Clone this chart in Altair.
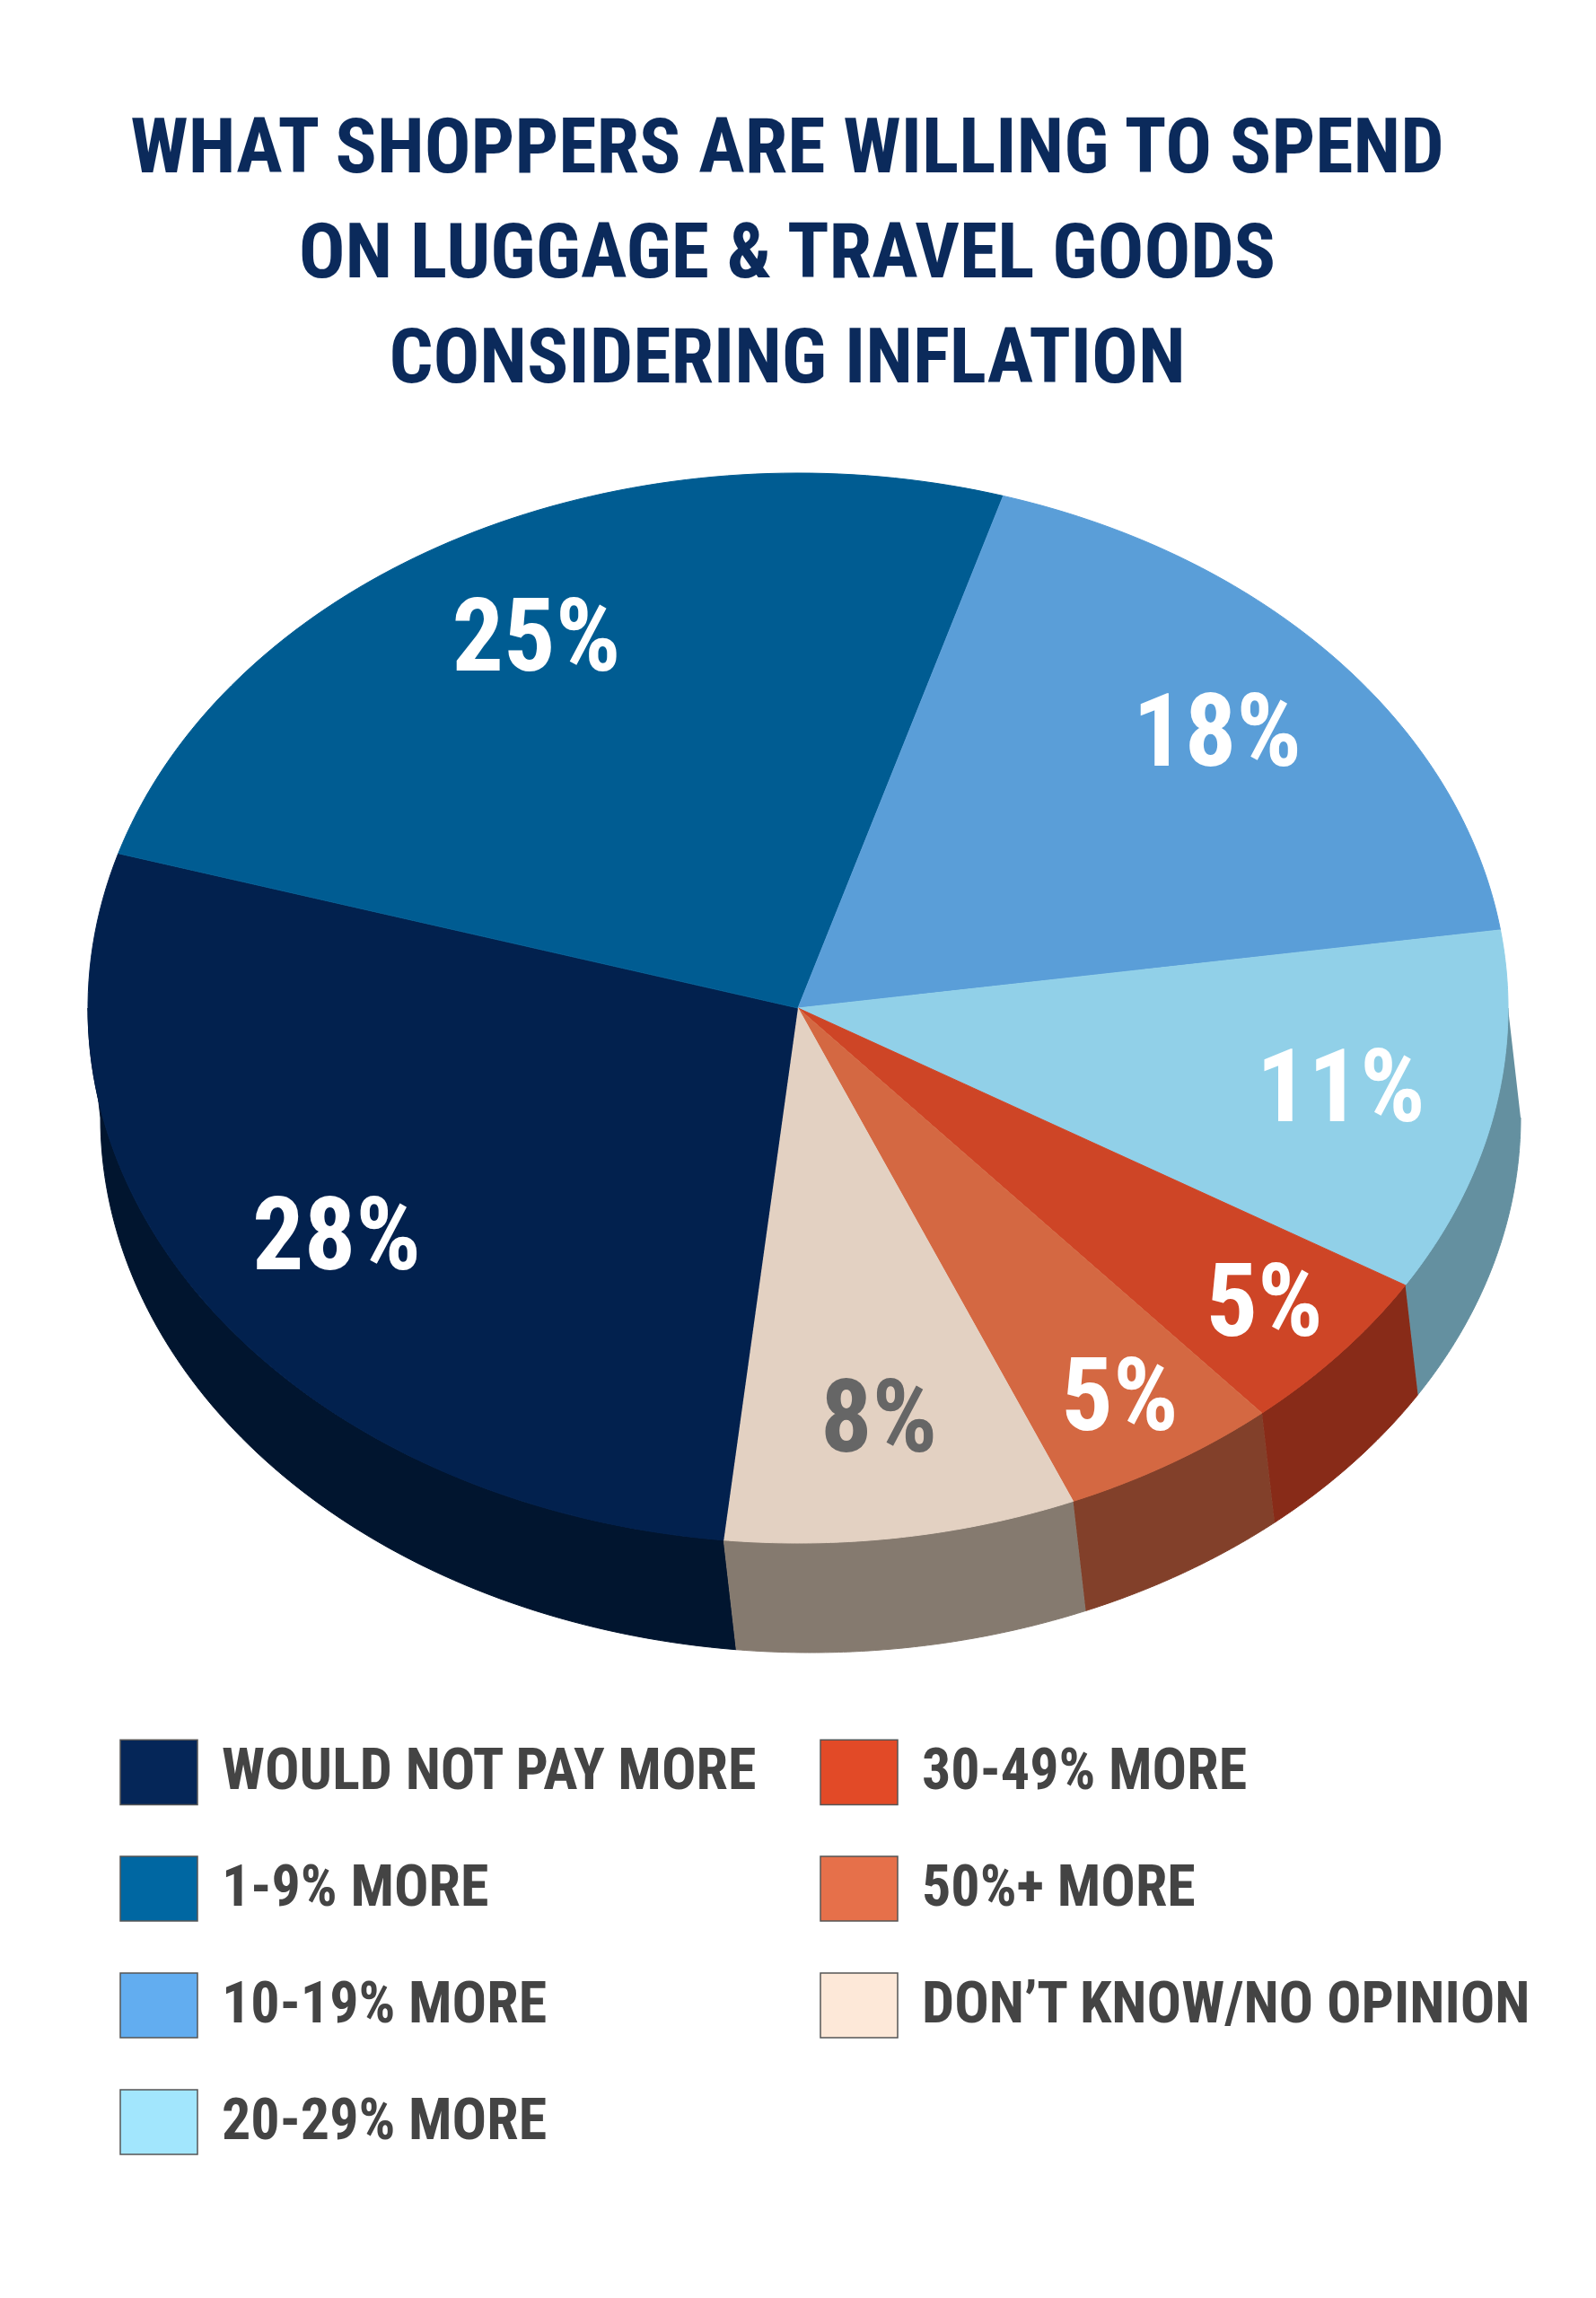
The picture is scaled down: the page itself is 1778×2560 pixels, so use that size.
import altair as alt
import pandas as pd

# ---------------- data ----------------
categories = [
    "WOULD NOT PAY MORE",
    "1-9% MORE",
    "10-19% MORE",
    "20-29% MORE",
    "30-49% MORE",
    "50%+ MORE",
    "DON\u2019T KNOW/NO OPINION",
]
values = [28, 25, 18, 11, 5, 5, 8]

legend_colors = ["#052658", "#0067a2", "#62adf0", "#a2e6fd", "#e24a27", "#e6704a", "#fde8d8"]
top_colors = ["#02214e", "#005c92", "#5a9ed8", "#91d0e8", "#ce4526", "#d46842", "#e3d1c2"]
side_colors = ["#01152f", "#00385a", "#3a6890", "#6490a0", "#882b18", "#82402a", "#857a6f"]

title_lines = [
    "WHAT SHOPPERS ARE WILLING TO SPEND",
    "ON LUGGAGE & TRAVEL GOODS",
    "CONSIDERING INFLATION",
]

df = pd.DataFrame({"cat": categories, "value": values, "k": list(range(len(values)))})

# ---------------- geometry (layout constants) ----------------
FONT = "Roboto Condensed, Liberation Sans Narrow, DejaVu Sans Condensed, Roboto, sans-serif"
PAD_TOP = 470
W, H = 1762, 2074
X0, Y0 = 8, 8 + PAD_TOP          # page position of plot origin
CX, CY = 889, 1123               # centre of pie top face (page px)
RX, RY = 791, 596                # ellipse radii
DEPTH, DX = 122, 14              # 3-D thickness
START = "(186/180*PI)"           # start angle of first slice
N = 80

xs = alt.Scale(domain=[X0, X0 + W], nice=False, zero=False)
ys = alt.Scale(domain=[Y0, Y0 + H], nice=False, zero=False, reverse=True)

base = alt.Chart(df).transform_window(
    cum="sum(value)", sort=[alt.SortField("k")], frame=[None, 0]
).transform_calculate(
    a0=f"{START} + (datum.cum - datum.value) / 100 * 2 * PI",
    a1=f"{START} + datum.cum / 100 * 2 * PI",
)

# side walls (visible front half)
sides = base.transform_calculate(
    lo="datum.a0 < 1.5*PI ? max(datum.a0, 0.5*PI) : max(datum.a0, 2.5*PI)",
    hi="datum.a0 < 1.5*PI ? min(datum.a1, 1.5*PI) : min(datum.a1, 3.5*PI)",
).transform_filter("datum.hi > datum.lo").transform_calculate(
    idx=f"sequence(0, {2 * N + 2})"
).transform_flatten(["idx"]).transform_calculate(
    t=f"datum.idx > {N} ? ({2 * N + 1} - datum.idx) / {N} : datum.idx / {N}",
).transform_calculate(
    ang="datum.lo + (datum.hi - datum.lo) * datum.t",
).transform_calculate(
    px=f"{CX} + {RX} * sin(datum.ang) + (datum.idx > {N} ? {DX} : 0)",
    py=f"{CY} - {RY} * cos(datum.ang) + (datum.idx > {N} ? {DEPTH} : 0)",
).mark_line(filled=True, strokeWidth=1, strokeJoin="round").encode(
    x=alt.X("px:Q", scale=xs, axis=None),
    y=alt.Y("py:Q", scale=ys, axis=None),
    order=alt.Order("idx:Q"),
    fill=alt.Fill("cat:N", scale=alt.Scale(domain=categories, range=side_colors), legend=None),
    stroke=alt.Stroke("cat:N", scale=alt.Scale(domain=categories, range=side_colors), legend=None),
)

# top face
top = base.transform_calculate(
    idx=f"sequence(-1, {N + 1})"
).transform_flatten(["idx"]).transform_calculate(
    ang=f"datum.a0 + (datum.a1 - datum.a0) * max(datum.idx, 0) / {N}",
).transform_calculate(
    px=f"datum.idx < 0 ? {CX} : {CX} + {RX} * sin(datum.ang)",
    py=f"datum.idx < 0 ? {CY} : {CY} - {RY} * cos(datum.ang)",
).mark_line(filled=True, strokeWidth=1, strokeJoin="round").encode(
    x=alt.X("px:Q", scale=xs, axis=None),
    y=alt.Y("py:Q", scale=ys, axis=None),
    order=alt.Order("idx:Q"),
    fill=alt.Fill("cat:N", scale=alt.Scale(domain=categories, range=top_colors), legend=None),
    stroke=alt.Stroke("cat:N", scale=alt.Scale(domain=categories, range=top_colors), legend=None),
)

# legend carrier (no visible marks of its own)
legend_layer = alt.Chart(df).transform_filter("false").mark_square(filled=True).encode(
    x=alt.X("k:Q", scale=xs, axis=None),
    y=alt.Y("value:Q", scale=ys, axis=None),
    color=alt.Color(
        "cat:N",
        scale=alt.Scale(domain=categories, range=legend_colors),
        legend=alt.Legend(
            title=None,
            orient="none",
            legendX=133 - X0,
            legendY=1930 - Y0,
            columns=2,
            direction="vertical",
            symbolType="M-1,-0.84H1V0.84H-1Z",
            symbolSize=7396,
            symbolStrokeColor="#555555",
            symbolStrokeWidth=1.5,
            symbolOpacity=1,
            labelFont=FONT,
            labelFontSize=64,
            labelFontWeight="bold",
            labelColor="#444444",
            labelOffset=26,
            labelLimit=1000,
            rowPadding=46,
            columnPadding=66,
            padding=0,
        ),
    ),
)

labels = base.transform_calculate(
    mid="(datum.a0 + datum.a1) / 2",
    r="datum.value < 6 ? 0.86 : 0.78",
    label="datum.value + '%'",
).transform_calculate(
    lx=f"{CX} + {RX} * datum.r * sin(datum.mid)",
    ly=f"{CY} - {RY} * datum.r * cos(datum.mid)",
).mark_text(font=FONT, fontSize=114, fontWeight="bold", align="center", baseline="middle").encode(
    x=alt.X("lx:Q", scale=xs, axis=None),
    y=alt.Y("ly:Q", scale=ys, axis=None),
    text="label:N",
    color=alt.condition(alt.datum.cat == categories[6], alt.value("#666666"), alt.value("#ffffff")),
)

chart = alt.layer(sides, top, labels, legend_layer).resolve_scale(
    fill="independent", stroke="independent"
).properties(
    width=W,
    height=H,
    autosize=alt.AutoSizeParams(type="none"),
    padding={"left": 0, "top": PAD_TOP, "right": 0, "bottom": 0},
    background="white",
    title=alt.TitleParams(
        text=title_lines,
        font=FONT,
        fontSize=86,
        fontWeight="bold",
        color="#0b2a5b",
        anchor="middle",
        frame="group",
        lineHeight=117,
        offset=34,
        dx=-12,
    ),
).configure_view(strokeWidth=0)

chart.save("out.html", embed_options={"renderer": "svg", "actions": False})
